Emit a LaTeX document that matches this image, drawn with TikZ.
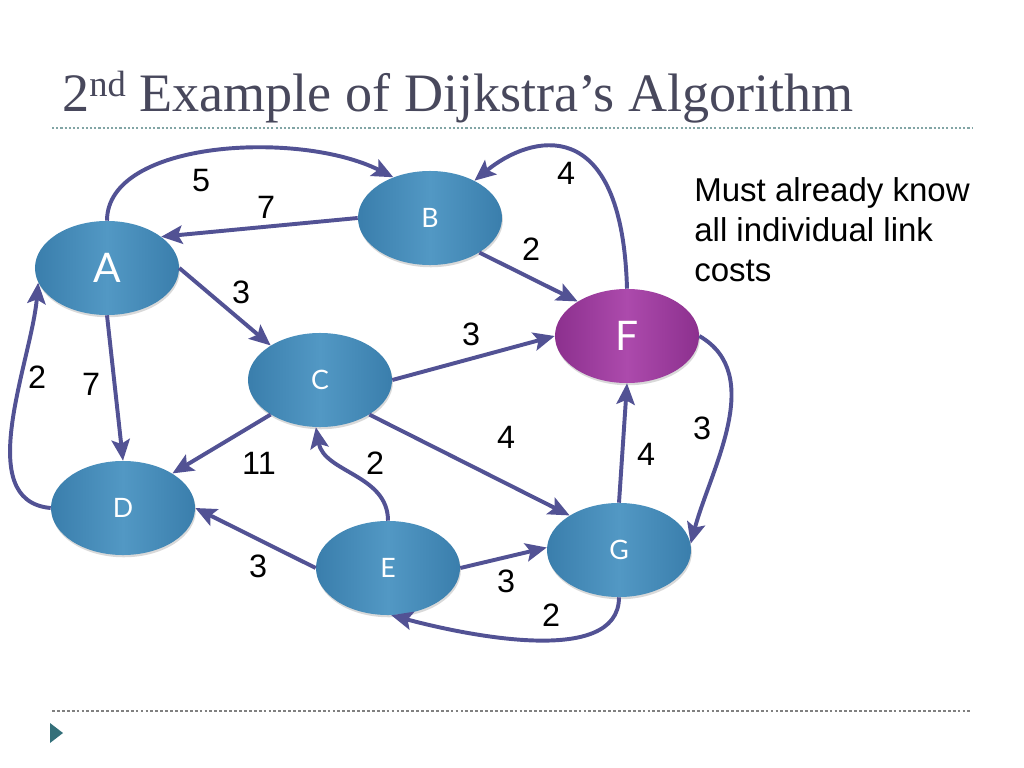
\documentclass[tikz,border=0pt]{standalone}
\usepackage{fontspec}
\setmainfont{Liberation Serif}
\newfontfamily\labelfont{Liberation Sans}
\newfontfamily\vertexfont{Lato}
\usetikzlibrary{shapes.geometric, arrows.meta, shadows}

\definecolor{edgeblue}{RGB}{82,82,148}
\definecolor{nodeblue}{RGB}{58,126,172}
\definecolor{nodelight}{RGB}{82,152,196}
\definecolor{nodepurple}{RGB}{140,48,142}
\definecolor{purplelight}{RGB}{172,74,172}
\definecolor{titlegray}{RGB}{72,72,92}
\definecolor{ruleteal}{RGB}{130,165,165}
\definecolor{bulletteal}{RGB}{52,112,122}

\tikzset{
    vertex/.style={ellipse, inner sep=0pt, minimum width=3.6cm, minimum height=2.35cm,
        left color=nodeblue, right color=nodeblue, middle color=nodelight,
        drop shadow={opacity=0.3, shadow xshift=0.6pt, shadow yshift=-1.6pt},
        text=white, font=\vertexfont\fontsize{19}{19}\selectfont},
    bigvertex/.style={vertex, font=\vertexfont\fontsize{29}{29}\selectfont},
    sourcevertex/.style={bigvertex, left color=nodepurple, right color=nodepurple, middle color=purplelight},
    link/.style={draw=edgeblue, line width=2.8pt, -{Stealth[length=15pt, width=13pt, inset=3pt]}},
    cost/.style={inner sep=0pt, font=\labelfont\fontsize{23}{23}\selectfont},
}

\begin{document}
\begin{tikzpicture}[x=0.025cm, y=-0.025cm]
    \useasboundingbox (0,0) rectangle (1024,768);

    % Title and rules
    \node[anchor=base west, inner sep=0pt, text=titlegray, font=\fontsize{38.5}{38.5}\selectfont] (title) at (62,112)
        {2\raisebox{11pt}{\fontsize{26}{26}\selectfont nd} Example of Dijkstra’s Algorithm};
    \draw[ruleteal, line width=0.8pt, dash pattern=on 1.5pt off 1.5pt] (52,128) -- (972,128);
    \draw[gray, line width=0.8pt, dash pattern=on 2pt off 1.5pt] (52,711) -- (972,711);
    \fill[bulletteal] (50,723) -- (63,733) -- (50,743) -- cycle;

    % Nodes
    \node[bigvertex] (A) at (107,268) {A};
    \node[vertex] (B) at (430,218) {B};
    \node[vertex] (C) at (320,380) {C};
    \node[vertex] (D) at (123,508) {D};
    \node[vertex] (E) at (388,568) {E};
    \node[sourcevertex] (F) at (627,336) {F};
    \node[vertex] (G) at (619,550) {G};

    % Links
    \draw[link] (A.north) .. controls (107,140) and (300,130) .. (B.132);
    \draw[link] (B.west) -- (A.30);
    \draw[link] (A.east) -- (C.145);
    \draw[link] (A.south) -- (D.north);
    \draw[link] (D.west) to[out=175, in=265, looseness=0.9] (A.192);
    \draw[link] (B.-35) -- (F.145);
    \draw[link] (F.north) .. controls (622,110) and (530,135) .. (B.40);
    \draw[link] (C.east) -- (F.west);
    \draw[link] (C.215) -- (D.35);
    \draw[link] (C.-35) -- (G.145);
    \draw[link] (E.north) to[out=90, in=-80] (C.-95);
    \draw[link] (E.west) -- (D.east);
    \draw[link] (E.east) -- (G.178);
    \draw[link] (G.south) to[out=-90, in=-15, looseness=0.8] (E.-86);
    \draw[link] (G.north) -- (F.south);
    \draw[link] (F.east) to[out=-30, in=75, looseness=0.95] (G.5);

    % Link costs
    \node[cost] (wAB) at (201,181) {5};
    \node[cost] (wBA) at (266,207) {7};
    \node[cost] (wAC) at (241,292) {3};
    \node[cost] (wDA) at (37,377) {2};
    \node[cost] (wAD) at (91,384) {7};
    \node[cost] (wFB) at (566,173) {4};
    \node[cost] (wBF) at (531,249) {2};
    \node[cost] (wCF) at (471,334) {3};
    \node[cost] (wCD) at (259,463) {11};
    \node[cost] (wEC) at (375,463) {2};
    \node[cost] (wCG) at (506,437) {4};
    \node[cost] (wGF) at (646,454) {4};
    \node[cost] (wFG) at (702,428) {3};
    \node[cost] (wED) at (258,566) {3};
    \node[cost] (wEG) at (506,581) {3};
    \node[cost] (wGE) at (551,615) {2};

    % Note
    \node[anchor=north west, inner sep=0pt, align=left, font=\labelfont\fontsize{23.5}{28.5}\selectfont] (note) at (694,177)
        {Must already know\\all individual link\\costs};
\end{tikzpicture}
\end{document}
